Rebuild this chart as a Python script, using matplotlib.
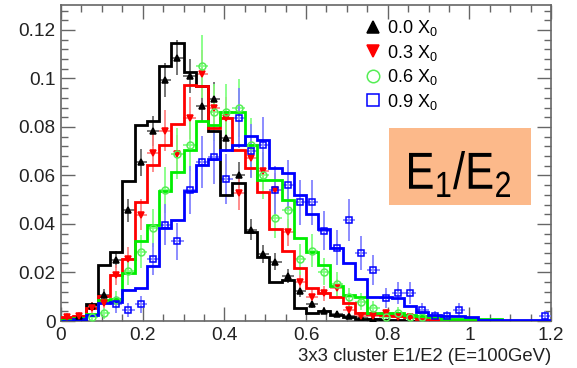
import numpy as np
import matplotlib
matplotlib.use("Agg")
import matplotlib.pyplot as plt
from matplotlib.lines import Line2D
from matplotlib.textpath import TextPath
from matplotlib.patches import PathPatch, Rectangle
from matplotlib.font_manager import FontProperties
from matplotlib.transforms import Affine2D

plt.rcParams['font.family'] = ['Liberation Sans', 'DejaVu Sans']
plt.rcParams['mathtext.fontset'] = 'custom'
plt.rcParams['mathtext.rm'] = 'Liberation Sans'
plt.rcParams['mathtext.it'] = 'Liberation Sans:italic'
plt.rcParams['mathtext.bf'] = 'Liberation Sans:bold'

# ---------------- data ----------------
x_min, x_max, n_bins = 0.0, 1.2, 40
series_labels = ["0.0 X$_0$", "0.3 X$_0$", "0.6 X$_0$", "0.9 X$_0$"]
x_tick_vals = [0, 0.2, 0.4, 0.6, 0.8, 1.0, 1.2]
x_tick_labels = ["0", "0.2", "0.4", "0.6", "0.8", "1", "1.2"]
y_tick_vals = [0, 0.02, 0.04, 0.06, 0.08, 0.10, 0.12]
y_tick_labels = ["0", "0.02", "0.04", "0.06", "0.08", "0.1", "0.12"]
x_label = "3x3 cluster E1/E2 (E=100GeV)"
box_text = "E$_1$/E$_2$"

# histograms (simulation), 40 bins of 0.03
hist_00 = [0.001, 0.001, 0.007, 0.023, 0.0284, 0.0576, 0.0808, 0.0823, 0.105, 0.1147,
           0.1026, 0.0968, 0.0785, 0.052, 0.0571, 0.0365, 0.0265, 0.0162, 0.0168, 0.0053,
           0.0035, 0.0043, 0.0025, 0.0018, 0.001, 0.0008, 0.0005, 0.0003, 0, 0,
           0, 0, 0, 0, 0, 0, 0, 0, 0, 0]
hist_03 = [0.0018, 0.002, 0.0052, 0.0103, 0.019, 0.0256, 0.049, 0.0644, 0.0727, 0.0812,
           0.0975, 0.0968, 0.0795, 0.0835, 0.0706, 0.063, 0.053, 0.038, 0.029, 0.022,
           0.0135, 0.0114, 0.010, 0.0076, 0.0035, 0.003, 0.0024, 0.002, 0.0015, 0.001,
           0.0005, 0, 0, 0, 0, 0, 0, 0, 0, 0]
hist_06 = [0.0005, 0.0011, 0.0029, 0.0088, 0.0092, 0.0197, 0.0328, 0.0397, 0.0534, 0.0613,
           0.0706, 0.0823, 0.081, 0.0862, 0.0862, 0.0727, 0.058, 0.058, 0.050, 0.0342,
           0.0286, 0.0231, 0.0145, 0.0107, 0.010, 0.0032, 0.0035, 0.0032, 0.0025, 0.002,
           0.0015, 0.001, 0.001, 0.001, 0.001, 0.0008, 0, 0, 0, 0]
hist_09 = [0, 0.0007, 0.0025, 0.0076, 0.008, 0.0128, 0.0135, 0.0227, 0.0383, 0.0417,
           0.0534, 0.0644, 0.0668, 0.0706, 0.0725, 0.0762, 0.0745, 0.063, 0.061, 0.052,
           0.044, 0.038, 0.030, 0.024, 0.0175, 0.010, 0.0098, 0.0095, 0.006, 0.0038,
           0.0025, 0.002, 0.002, 0.0018, 0.0005, 0.0005, 0.0005, 0.0005, 0.0005, 0.0005]

# data points (bin index, value, error)
pts_00_bins = list(range(1, 26))
pts_00_vals = [0.002, 0.0062, 0.0107, 0.0252, 0.0456, 0.0655, 0.0782, 0.0993, 0.1085, 0.1009,
               0.0888, 0.0917, 0.0755, 0.0603, 0.0376, 0.0277, 0.0245, 0.0186, 0.0125, 0.007,
               0.0043, 0.003, 0.002, 0.0015, 0.001]
pts_00_errs = [0.001, 0.0017, 0.0023, 0.0035, 0.0047, 0.0056, 0.0062, 0.0069, 0.0072, 0.007,
               0.0066, 0.0067, 0.006, 0.0054, 0.0043, 0.0037, 0.0034, 0.003, 0.0025, 0.0018,
               0.0014, 0.0012, 0.001, 0.0009, 0.0007]

pts_03_bins = list(range(0, 29))
pts_03_vals = [0.0018, 0.002, 0.0055, 0.0075, 0.0188, 0.0256, 0.0438, 0.0693, 0.0784, 0.069,
               0.0837, 0.102, 0.088, 0.0835, 0.0527, 0.0672, 0.0618, 0.054, 0.0365, 0.0162,
               0.010, 0.0114, 0.0138, 0.0045, 0.002, 0.002, 0.0034, 0.0015, 0.0015]
pts_03_errs = [0.0013, 0.0013, 0.0022, 0.0026, 0.0041, 0.0048, 0.0063, 0.0079, 0.0084, 0.0079,
               0.0087, 0.0096, 0.0089, 0.0087, 0.0069, 0.0078, 0.0075, 0.007, 0.0057, 0.0038,
               0.003, 0.0032, 0.0035, 0.002, 0.0013, 0.0013, 0.0017, 0.0012, 0.0012]

pts_06_bins = list(range(2, 30))
pts_06_vals = [0.0015, 0.0032, 0.0085, 0.0207, 0.0286, 0.0383, 0.054, 0.069, 0.0727, 0.105,
               0.086, 0.0862, 0.0878, 0.0727, 0.060, 0.0424, 0.0458, 0.0255, 0.029, 0.0204,
               0.0153, 0.0098, 0.008, 0.0052, 0.0018, 0.0034, 0.0018, 0.0018]
pts_06_errs = [0.0016, 0.0023, 0.0037, 0.0058, 0.0068, 0.0078, 0.0093, 0.0105, 0.0108, 0.013,
               0.0117, 0.0117, 0.0118, 0.0108, 0.0098, 0.0082, 0.0086, 0.0064, 0.0068, 0.0057,
               0.005, 0.004, 0.0036, 0.0029, 0.0017, 0.0023, 0.0017, 0.0017]

pts_09_bins = list(range(4, 33)) + [39]
pts_09_vals = [0.0069, 0.0045, 0.0069, 0.0256, 0.0397, 0.0328, 0.054, 0.0654, 0.0675, 0.0585,
               0.0837, 0.070, 0.0727, 0.054, 0.0562, 0.049, 0.049, 0.0373, 0.0303, 0.0417,
               0.028, 0.0211, 0.0094, 0.0117, 0.0117, 0.0045, 0.0022, 0.0022, 0.0046, 0.0022]
pts_09_errs = [0.0035, 0.0028, 0.0035, 0.0067, 0.0084, 0.0076, 0.0098, 0.0107, 0.0109, 0.0102,
               0.0122, 0.0111, 0.0113, 0.0098, 0.01, 0.0093, 0.0093, 0.0081, 0.0073, 0.0086,
               0.007, 0.0061, 0.0041, 0.0045, 0.0045, 0.0028, 0.0019, 0.0019, 0.0029, 0.0019]

# ---------------- figure ----------------
W, H = 577, 368
fig = plt.figure(figsize=(W / 100, H / 100), dpi=100)
ax_l, ax_r, ax_t, ax_b = 61, 551, 5, 321
ax = fig.add_axes([ax_l / W, 1 - ax_b / H, (ax_r - ax_l) / W, (ax_b - ax_t) / H])

edges = np.linspace(x_min, x_max, n_bins + 1)
centers = 0.5 * (edges[:-1] + edges[1:])
half_w = 0.5 * (edges[1] - edges[0])

hists = [hist_00, hist_03, hist_06, hist_09]
pts = [(pts_00_bins, pts_00_vals, pts_00_errs),
       (pts_03_bins, pts_03_vals, pts_03_errs),
       (pts_06_bins, pts_06_vals, pts_06_errs),
       (pts_09_bins, pts_09_vals, pts_09_errs)]
line_cols = ['#000000', '#ff0000', '#00ee00', '#0000ff']
err_cols = ['#666666', '#ff8080', '#80ff80', '#8080ff']
mk = ['^', 'v', 'o', 's']
mk_face = ['#000000', '#ff0000', 'none', 'none']
mk_edge = ['#000000', '#ff0000', '#55ee55', '#0000ff']
mk_size = [4.0, 4.0, 5.0, 5.0]

for i in range(4):
    b, v, e = pts[i]
    xs = centers[np.array(b)]
    ax.errorbar(xs, v, yerr=e, xerr=half_w, fmt='none', ecolor=err_cols[i],
                elinewidth=1.4, capsize=0, alpha=0.9, zorder=2 + i)

for i in range(4):
    ax.stairs(hists[i], edges, color=line_cols[i], lw=2.0, zorder=6 + i)

for i in range(4):
    b, v, e = pts[i]
    xs = centers[np.array(b)]
    ax.plot(xs, v, ls='none', marker=mk[i], ms=mk_size[i], mfc=mk_face[i],
            mec=mk_edge[i], mew=1.1, zorder=12 + i)

ax.set_xlim(x_min, x_max)
ax.set_ylim(0, 0.1303)
ax.set_xticks(x_tick_vals)
ax.set_xticklabels(x_tick_labels)
ax.set_yticks(y_tick_vals)
ax.set_yticklabels(y_tick_labels)
ax.set_xticks(np.arange(0, 1.2001, 0.05), minor=True)
ax.set_yticks(np.arange(0, 0.1303, 0.004), minor=True)
for s in ax.spines.values():
    s.set_color('#666666')
    s.set_linewidth(1.2)
ax.tick_params(which='both', direction='in', top=True, right=True, colors='#666666',
               labelcolor='#222222', labelsize=13.7, width=1.0)
ax.tick_params(which='major', length=10, pad=4)
ax.tick_params(which='minor', length=5)
ax.set_xlabel(x_label, fontsize=13.3, color='#222222', loc='right', labelpad=3)

handles = [Line2D([], [], ls='none', marker=mk[i], ms=9, mfc=mk_face[i], mec=mk_edge[i], mew=1.1)
           for i in range(4)]
leg = ax.legend(handles, series_labels, loc='upper left',
                bbox_to_anchor=(366 / W, 1 - 18 / H), bbox_transform=fig.transFigure,
                frameon=False, fontsize=13, handlelength=0.8, handletextpad=0.35,
                labelspacing=0.25, borderpad=0, borderaxespad=0)

# orange box with E1/E2
bx0, bx1, by0, by1 = 389, 531, 128, 205
fig.add_artist(Rectangle((bx0 / W, 1 - by1 / H), (bx1 - bx0) / W, (by1 - by0) / H,
                         transform=fig.transFigure, facecolor='#fcb98a', edgecolor='none',
                         zorder=20))
tp = TextPath((0, 0), box_text, size=1, prop=FontProperties(family='Liberation Sans'))
ext = tp.get_extents()
tx0, tx1, ty0, ty1 = 409, 510, 151, 197
sx = (tx1 - tx0) / ext.width
sy = (ty1 - ty0) / ext.height
tr = (Affine2D().translate(-ext.x0, -ext.y0).scale(sx / W, sy / H)
      .translate(tx0 / W, 1 - ty1 / H) + fig.transFigure)
fig.add_artist(PathPatch(tp, transform=tr, facecolor='black', edgecolor='none', zorder=21))

fig.savefig("out.png", dpi=100)
